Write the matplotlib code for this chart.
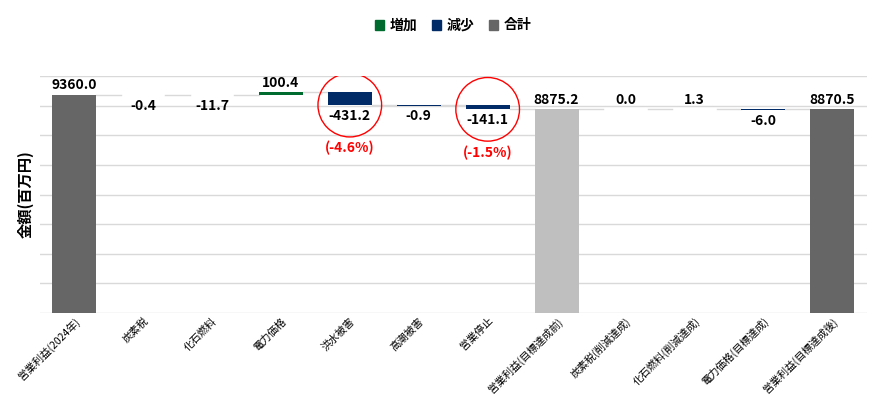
import matplotlib
matplotlib.use("Agg")
import matplotlib.pyplot as plt
from matplotlib.patches import Patch

plt.rcParams['font.family'] = ['Noto Sans CJK JP', 'DejaVu Sans']

categories = ["営業利益(2024年)", "炭素税", "化石燃料", "電力価格", "洪水被害", "高潮被害", "営業停止",
              "営業利益(目標達成前)", "炭素税(削減達成)", "化石燃料(削減達成)", "電力価格(目標達成)", "営業利益(目標達成後)"]
values = [9360.0, -0.4, -11.7, 100.4, -431.2, -0.9, -141.1, 8875.2, 0.0, 1.3, -6.0, 8870.5]
kinds = ["total", "d", "d", "d", "d", "d", "d", "sub", "d", "d", "d", "total"]
pct_labels = {4: "(-4.6%)", 6: "(-1.5%)"}

GREEN, NAVY, DARK, LIGHT = "#006b2e", "#002b66", "#666666", "#bfbfbf"
YMIN = 2000

fig = plt.figure(figsize=(8.8, 4), dpi=100)
ax = fig.add_axes([0.045, 0.2175, 0.94, 0.5925])
ax.set_ylim(YMIN, 10000)
ax.set_xlim(-0.5, len(categories) - 0.5)
ax.set_yticks(range(2000, 10001, 1000))
ax.yaxis.grid(True, color="#d9d9d9", lw=1)
ax.set_axisbelow(True)
ax.tick_params(axis='y', length=0, labelleft=False)
ax.tick_params(axis='x', length=0, pad=2)
for s in ax.spines.values():
    s.set_visible(False)

w = 0.64
run = 0
for i, (v, k) in enumerate(zip(values, kinds)):
    if k in ("total", "sub"):
        run = v
        ax.bar(i, v - YMIN, bottom=YMIN, width=w, color=DARK if k == "total" else LIGHT, zorder=2)
        ax.annotate(f"{v:.1f}", (i, v), xytext=(0, 2), textcoords="offset points",
                    ha="center", va="bottom", fontsize=10, fontweight="bold")
        lo, hi = v, v
    else:
        lo, hi = min(run, run + v), max(run, run + v)
        h = max(hi - lo, 15)
        c = GREEN if v >= 0 else NAVY
        ax.bar(i, h, bottom=hi - h if v < 0 else lo, width=w, color=c, zorder=2)
        if v >= 0:
            ax.annotate(f"{v:.1f}", (i, hi), xytext=(0, 2), textcoords="offset points",
                        ha="center", va="bottom", fontsize=10, fontweight="bold")
        else:
            ax.annotate(f"{v:.1f}", (i, lo), xytext=(0, -3), textcoords="offset points",
                        ha="center", va="top", fontsize=10, fontweight="bold")
        run = run + v
    if i in pct_labels:
        ax.scatter([i], [lo], s=2100, facecolors="none", edgecolors="red", lw=1, zorder=3)
        ax.annotate(pct_labels[i], (i, lo), xytext=(0, -26), textcoords="offset points",
                    ha="center", va="top", fontsize=10, fontweight="bold", color="red")
    if i < len(values) - 1:
        ax.plot([i + w / 2, i + 1 - w / 2], [run, run], color="#d9d9d9", lw=1, zorder=1)

ax.set_xticks(range(len(categories)))
ax.set_xticklabels(categories, rotation=45, ha="right", rotation_mode="anchor", fontsize=7.5)
ax.set_ylabel("金額(百万円)", fontsize=11, fontweight="bold")

handles = [Patch(color=GREEN, label="増加"), Patch(color=NAVY, label="減少"), Patch(color=DARK, label="合計")]
fig.legend(handles=handles, loc="upper center", bbox_to_anchor=(0.515, 0.985), ncol=3, frameon=False,
           prop={"size": 10, "weight": "bold"}, handlelength=0.7, handleheight=0.7,
           columnspacing=1.0, handletextpad=0.4)

fig.savefig("out.png", dpi=100)
